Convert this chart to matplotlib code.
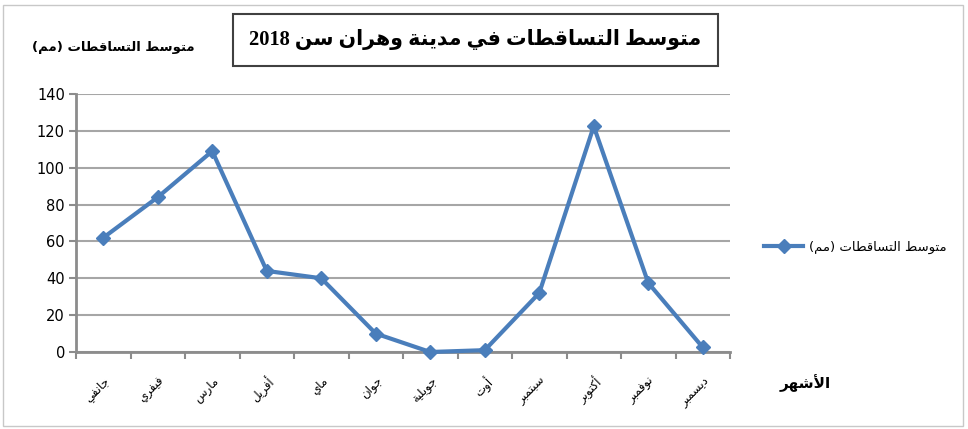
import re
import matplotlib
matplotlib.use("Agg")
import matplotlib.pyplot as plt
from matplotlib.patches import Rectangle
from matplotlib.lines import Line2D

# monthly mean rainfall, Oran 2018
months = ["جانفي", "فيفري", "مارس", "أفريل", "ماي", "جوان",
          "جويلية", "أوت", "سبتمبر", "أكتوبر", "نوفمبر", "ديسمبر"]
rain_mm = [62, 84, 109, 44, 40, 10, 0, 1, 32, 122.5, 37.5, 2.5]
y_ticks = [0, 20, 40, 60, 80, 100, 120, 140]

title_txt = "متوسط التساقطات في مدينة وهران سن 2018"
ylabel_txt = "متوسط التساقطات (مم)"
xlabel_txt = "الأشهر"
legend_txt = "متوسط التساقطات (مم)"

# matplotlib does no arabic shaping, so do it by hand with presentation forms
# (isolated, final, initial, medial)
FORMS = {
    "\u0627": ("\uFE8D", "\uFE8E", None, None),
    "\u0623": ("\uFE83", "\uFE84", None, None),
    "\u0628": ("\uFE8F", "\uFE90", "\uFE91", "\uFE92"),
    "\u0629": ("\uFE93", "\uFE94", None, None),
    "\u062A": ("\uFE95", "\uFE96", "\uFE97", "\uFE98"),
    "\u062C": ("\uFE9D", "\uFE9E", "\uFE9F", "\uFEA0"),
    "\u062F": ("\uFEA9", "\uFEAA", None, None),
    "\u0631": ("\uFEAD", "\uFEAE", None, None),
    "\u0633": ("\uFEB1", "\uFEB2", "\uFEB3", "\uFEB4"),
    "\u0634": ("\uFEB5", "\uFEB6", "\uFEB7", "\uFEB8"),
    "\u0637": ("\uFEC1", "\uFEC2", "\uFEC3", "\uFEC4"),
    "\u0641": ("\uFED1", "\uFED2", "\uFED3", "\uFED4"),
    "\u0642": ("\uFED5", "\uFED6", "\uFED7", "\uFED8"),
    "\u0643": ("\uFED9", "\uFEDA", "\uFEDB", "\uFEDC"),
    "\u0644": ("\uFEDD", "\uFEDE", "\uFEDF", "\uFEE0"),
    "\u0645": ("\uFEE1", "\uFEE2", "\uFEE3", "\uFEE4"),
    "\u0646": ("\uFEE5", "\uFEE6", "\uFEE7", "\uFEE8"),
    "\u0647": ("\uFEE9", "\uFEEA", "\uFEEB", "\uFEEC"),
    "\u0648": ("\uFEED", "\uFEEE", None, None),
    "\u064A": ("\uFEF1", "\uFEF2", "\uFEF3", "\uFEF4"),
}
LAMALEF = {"\u0627": ("\uFEFB", "\uFEFC"), "\u0623": ("\uFEF7", "\uFEF8")}


def is_ar(x):
    return isinstance(x, tuple) or x in FORMS


def joins_next(x):
    if isinstance(x, tuple):
        return False
    return x in FORMS and FORMS[x][2] is not None


def ar(text):
    chars = []
    i = 0
    while i < len(text):
        c = text[i]
        if c == "\u0644" and i + 1 < len(text) and text[i + 1] in LAMALEF:
            chars.append(("la", text[i + 1]))
            i += 2
        else:
            chars.append(c)
            i += 1
    out = []
    for k, x in enumerate(chars):
        prev = chars[k - 1] if k > 0 else None
        nxt = chars[k + 1] if k + 1 < len(chars) else None
        if not is_ar(x):
            out.append(x)
            continue
        jp = prev is not None and joins_next(prev)
        jn = joins_next(x) and nxt is not None and is_ar(nxt)
        if isinstance(x, tuple):
            out.append(LAMALEF[x[1]][1 if jp else 0])
        else:
            f = FORMS[x]
            idx = 3 if (jp and jn) else 1 if jp else 2 if jn else 0
            out.append(f[idx])
    s = "".join(out)[::-1]
    s = s.translate(str.maketrans("()", ")("))
    s = re.sub(r"[0-9A-Za-z.]+", lambda m: m.group(0)[::-1], s)
    return s


plt.rcParams["font.family"] = ["DejaVu Sans"]

fig = plt.figure(figsize=(9.68, 4.29), dpi=100)
ax = fig.add_axes([76 / 968, 1 - 352 / 429, (730 - 76) / 968, (352 - 94) / 429])

line_col = "#4a7ebb"
x = list(range(len(months)))
ax.plot(x, rain_mm, color=line_col, lw=3, marker="D", ms=7.5,
        mfc=line_col, mec=line_col, clip_on=False, zorder=3)

ax.set_xlim(-0.5, len(months) - 0.5)
ax.set_ylim(0, 140)
ax.set_yticks(y_ticks)
ax.tick_params(axis="y", labelsize=10.5, length=5, width=1.5, color="#8c8c8c", pad=3)
ax.grid(axis="y", color="#a6a6a6", lw=1.5)
ax.set_axisbelow(True)

ax.set_xticks(x)
ax.set_xticklabels([ar(m) for m in months], rotation=45, ha="right",
                   rotation_mode="anchor", fontsize=8.5)
ax.tick_params(axis="x", length=0, pad=16)
ax.set_xticks([i - 0.5 for i in range(len(months) + 1)], minor=True)
ax.tick_params(axis="x", which="minor", length=5, width=1.5, color="#8c8c8c")

for side in ["top", "right"]:
    ax.spines[side].set_visible(False)
for side in ["left", "bottom"]:
    ax.spines[side].set_color("#8c8c8c")
    ax.spines[side].set_linewidth(2)

# title in a box
fig.patches.append(Rectangle((233 / 968, 1 - 66 / 429), 485 / 968, 52 / 429,
                             transform=fig.transFigure, fc="white",
                             ec="#404040", lw=1.5))
fig.text(475 / 968, 1 - 40 / 429, ar(title_txt), ha="center", va="center",
         fontsize=14.8, fontweight="bold", family=["Liberation Serif", "DejaVu Sans"])

fig.text(113 / 968, 1 - 48 / 429, ar(ylabel_txt), ha="center", va="center",
         fontsize=9.5, fontweight="bold")
fig.text(805 / 968, 1 - 383 / 429, ar(xlabel_txt), ha="center", va="center",
         fontsize=11, fontweight="bold")

handle = Line2D([], [], color=line_col, lw=3, marker="D", ms=7.5)
fig.legend([handle], [ar(legend_txt)], loc="center left",
           bbox_to_anchor=(752 / 968, 1 - 247 / 429), frameon=False,
           handlelength=3.0, handletextpad=0.4, fontsize=9.5)

# outer frame
fig.patches.append(Rectangle((3 / 968, 3 / 429), 960 / 968, 421 / 429,
                             transform=fig.transFigure, fill=False,
                             ec="#c8c8c8", lw=1))

fig.savefig("out.png", dpi=100)
